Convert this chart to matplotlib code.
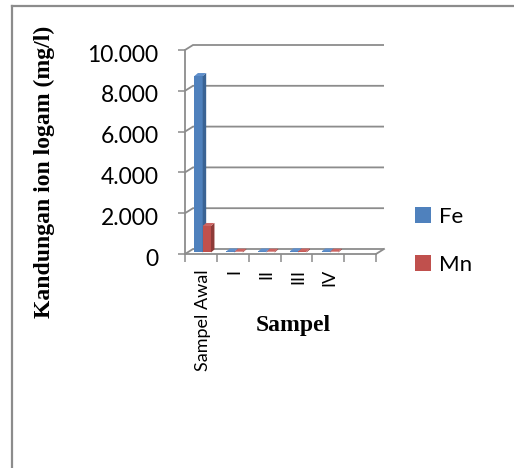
import numpy as np
import matplotlib
matplotlib.use('Agg')
import matplotlib.pyplot as plt
from matplotlib.patches import Polygon
from matplotlib.lines import Line2D
from matplotlib.transforms import ScaledTranslation

# ---- data ----
categories = ['Sampel Awal', 'I', 'II', 'III', 'IV', '']
fe = [8650, 50, 50, 60, 50, np.nan]
mn = [1300, 40, 40, 50, 40, np.nan]
series_names = ['Fe', 'Mn']
y_ticks = [0, 2000, 4000, 6000, 8000, 10000]
y_tick_labels = ['0', '2.000', '4.000', '6.000', '8.000', '10.000']
y_title = 'Kandungan ion logam (mg/l)'
x_title = 'Sampel'

plt.rcParams['font.family'] = ['Lato', 'DejaVu Sans']

W, H = 514, 468
fig = plt.figure(figsize=(W / 100, H / 100), dpi=100)
fig.patch.set_facecolor('white')

# plot area (front plane) in pixels
x0, x1 = 185, 376
y0, y1 = 254, 50
ax = fig.add_axes([x0 / W, 1 - y0 / H, (x1 - x0) / W, (y0 - y1) / H])
n = len(categories)
ymax = 10000
ax.set_xlim(0, n)
ax.set_ylim(0, ymax)
ax.patch.set_alpha(0)

px_x = n / (x1 - x0)
px_y = ymax / (y0 - y1)
depth_dx, depth_dy = 8 * px_x, 5 * px_y
grid_c = '#8c8c8c'
lw = 1.3

# back wall gridlines with side-wall diagonal
for v in y_ticks:
    ax.plot([0, depth_dx, n + depth_dx], [v, v + depth_dy, v + depth_dy],
            color=grid_c, lw=lw, clip_on=False, zorder=1,
            solid_capstyle='butt', solid_joinstyle='miter')
# floor right edge
ax.plot([n, n + depth_dx], [0, depth_dy], color=grid_c, lw=lw,
        clip_on=False, zorder=1)

# ---- 3D-ish bars ----
f = 0.3
bw = 0.26
offs = [0.22, 0.48]
bdx, bdy = 3.5 * px_x, 3 * px_y
colors = [('#4f81bd', '#3a6394', '#5f8fcb'), ('#c0504d', '#8e3b38', '#cc6461')]
handles = []
for si, vals in enumerate([fe, mn]):
    front, side, top = colors[si]
    xs = np.arange(n) + offs[si] + f * depth_dx
    bars = ax.bar(xs, vals, width=bw, bottom=f * depth_dy, align='edge',
                  color=front, zorder=3 + si, label=series_names[si])
    handles.append(bars)
    for rect in bars:
        h = rect.get_height()
        if h is None or np.isnan(h):
            continue
        xl = rect.get_x()
        xr = xl + rect.get_width()
        yb = rect.get_y()
        yt = yb + h
        ax.add_patch(Polygon([(xr, yb), (xr + bdx, yb + bdy), (xr + bdx, yt + bdy), (xr, yt)],
                             closed=True, facecolor=side, edgecolor='none', zorder=3 + si))
        ax.add_patch(Polygon([(xl, yt), (xl + bdx, yt + bdy), (xr + bdx, yt + bdy), (xr, yt)],
                             closed=True, facecolor=top, edgecolor='none', zorder=3 + si))

# ---- axes styling ----
for s in ['top', 'right']:
    ax.spines[s].set_visible(False)
for s in ['left', 'bottom']:
    ax.spines[s].set_color(grid_c)
    ax.spines[s].set_linewidth(lw)

ax.set_yticks(y_ticks, y_tick_labels)
ax.tick_params(axis='y', direction='out', length=5, width=1.1, color=grid_c,
               pad=14, labelsize=16.5, labelcolor='black')
shift = ScaledTranslation(0, -3 / 100, fig.dpi_scale_trans)
for lab in ax.get_yticklabels():
    lab.set_transform(lab.get_transform() + shift)

ax.set_xticks(np.arange(n + 1))
ax.set_xticklabels([''] * (n + 1))
ax.set_xticks(np.arange(n) + 0.55, minor=True)
ax.set_xticklabels(categories, minor=True, rotation=90, fontsize=13)
ax.tick_params(axis='x', which='major', direction='out', length=5.8, width=1.1, color=grid_c)
ax.tick_params(axis='x', which='minor', length=0, pad=11)

ax.set_ylabel(y_title, fontfamily='Liberation Serif', fontweight='bold', fontsize=17)
ax.yaxis.label.set_va('center')
ax.yaxis.set_label_coords(-0.738, 0.402)
ax.set_xlabel(x_title, fontfamily='Liberation Serif', fontweight='bold', fontsize=17)
ax.xaxis.label.set_va('center')
ax.xaxis.set_label_coords(0.568, -0.35)

# ---- legend ----
leg = fig.legend(handles=handles, labels=series_names, loc='upper left',
                 bbox_to_anchor=(415 / W, 1 - 207 / H), frameon=False,
                 fontsize=16, handlelength=0.7, handleheight=0.7,
                 handletextpad=0.38, labelspacing=1.25, borderpad=0, borderaxespad=0)

# ---- outer frame (left and top edges) ----
fig.add_artist(Line2D([12 / W, 12 / W], [0, 1 - 6 / H], transform=fig.transFigure,
                      color=grid_c, lw=1.6))
fig.add_artist(Line2D([12 / W, 1], [1 - 6 / H, 1 - 6 / H], transform=fig.transFigure,
                      color=grid_c, lw=1.6))

fig.savefig('out.png', dpi=100)
